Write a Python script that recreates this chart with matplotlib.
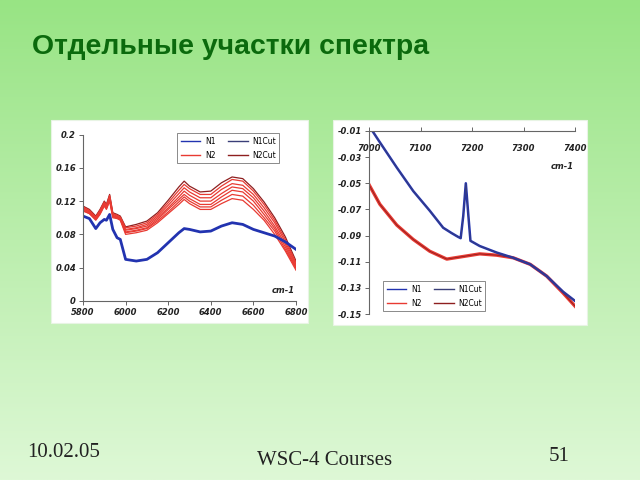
import numpy as np
import matplotlib
matplotlib.use("Agg")
import matplotlib.pyplot as plt
from matplotlib.patches import Rectangle

############################ Data: left panel ###################################
wn_left = [5800, 5830, 5860, 5880, 5900, 5910, 5925, 5940, 5960, 5975, 6000, 6050, 6100, 6150,
           6200, 6250, 6275, 6300, 6350, 6400, 6450, 6500, 6550, 6600, 6650, 6700, 6750, 6800]
n1_left = [.102, .099, .087, .094, .098, .097, .104, .086, .076, .074, .050, .048, .050, .058,
           .070, .082, .087, .086, .083, .084, .090, .094, .092, .086, .082, .078, .071, .062]
# red bundle (N2 / N2Cut), top to bottom
n2_left = [
    [.114, .110, .102, .110, .120, .116, .128, .106, .104, .102, .089, .092, .096, .106,
     .121, .137, .144, .138, .131, .132, .142, .149, .147, .135, .119, .100, .077, .048],
    [.113, .109, .101, .109, .119, .115, .127, .105, .103, .101, .088, .090, .094, .104,
     .118, .133, .140, .135, .128, .128, .138, .146, .144, .132, .116, .097, .074, .046],
    [.112, .108, .100, .108, .118, .114, .125, .104, .102, .100, .086, .088, .092, .102,
     .115, .129, .136, .131, .124, .124, .134, .141, .139, .128, .112, .094, .071, .044],
    [.111, .107, .099, .107, .117, .113, .124, .103, .101, .099, .085, .087, .090, .100,
     .112, .125, .132, .127, .120, .120, .129, .137, .135, .124, .108, .090, .068, .042],
    [.110, .106, .098, .106, .116, .112, .123, .102, .100, .098, .083, .085, .088, .098,
     .110, .122, .128, .123, .116, .116, .125, .133, .131, .120, .104, .087, .065, .040],
    [.109, .105, .098, .105, .115, .111, .121, .101, .100, .098, .082, .084, .087, .096,
     .107, .119, .125, .120, .113, .113, .121, .128, .126, .115, .100, .084, .062, .039],
    [.108, .105, .097, .104, .114, .110, .120, .100, .099, .097, .080, .082, .085, .094,
     .105, .116, .122, .117, .110, .110, .117, .123, .121, .110, .097, .080, .060, .037],
]
left_xticks = [5800, 6000, 6200, 6400, 6600, 6800]
left_yticks = [0, 0.04, 0.08, 0.12, 0.16, 0.2]
left_ylabels = ["0", "0.04", "0.08", "0.12", "0.16", "0.2"]

############################ Data: right panel ##################################
wn_n1_right = [7000, 7020, 7054, 7086, 7118, 7144, 7160, 7173, 7178, 7183, 7188, 7193, 7197,
               7215, 7248, 7280, 7313, 7345, 7377, 7400]
n1_right = [-0.006, -0.018, -0.038, -0.056, -0.071, -0.084, -0.088, -0.091, -0.092, -0.075,
            -0.050, -0.075, -0.094, -0.098, -0.103, -0.107, -0.112, -0.121, -0.133, -0.140]
wn_n2_right = [7000, 7021, 7054, 7086, 7118, 7151, 7183, 7215, 7248, 7280, 7313, 7345, 7377, 7400]
n2_right = [-0.051, -0.066, -0.082, -0.093, -0.102, -0.108, -0.106, -0.104, -0.105, -0.107,
            -0.112, -0.121, -0.134, -0.144]
right_xticks = [7000, 7100, 7200, 7300, 7400]
right_yticks = [-0.01, -0.03, -0.05, -0.07, -0.09, -0.11, -0.13, -0.15]

title = "Отдельные участки спектра"
footer_date = "10.02.05"
footer_mid = "WSC-4 Courses"
footer_page = "51"

c_n1 = "#2233b0"
c_n1cut = "#3a3f78"
c_n2 = "#e83a32"
c_n2cut = "#8e1f1f"
tick_font = dict(fontsize=6, fontstyle="italic", fontweight="bold", color="#222222")

################################ Figure ##########################################
fig = plt.figure(figsize=(6.4, 4.8), dpi=100)

# gradient background
bg = fig.add_axes([0, 0, 1, 1])
top = np.array([152, 228, 132]) / 255.
bot = np.array([222, 248, 214]) / 255.
t = np.linspace(0, 1, 256)[:, None, None]
grad = top * (1 - t) + bot * t
bg.imshow(np.repeat(grad, 2, axis=1), aspect="auto", extent=[0, 1, 0, 1])
bg.set_axis_off()

# white chart panels (pixel boxes)
for x0, y0, x1, y1 in [(51, 120, 308, 323), (333, 120, 587, 325)]:
    bg.add_patch(Rectangle((x0 / 640, 1 - y1 / 480), (x1 - x0) / 640, (y1 - y0) / 480,
                           facecolor="white", edgecolor="#e8f4e4", lw=0.8,
                           transform=fig.transFigure))

fig.text(32 / 640, 1 - 54 / 480, title, fontsize=20.4, fontweight="bold", color="#0b6a0d",
         family="Liberation Sans", va="baseline")
fig.text(27 / 640, 1 - 457 / 480, footer_date, fontsize=15, family="Liberation Serif",
         color="#222222", va="baseline")
fig.text(325 / 640, 1 - 465 / 480, footer_mid, fontsize=15, family="Liberation Serif",
         color="#222222", va="baseline", ha="center")
fig.text(559 / 640, 1 - 461 / 480, footer_page, fontsize=15, family="Liberation Serif",
         color="#222222", va="baseline", ha="center")


def style_axes(ax):
    for s in ax.spines.values():
        s.set_color("#666666")
        s.set_linewidth(0.8)
    ax.tick_params(length=3, width=0.7, color="#666666", pad=2)
    ax.set_facecolor("none")


############################ Left chart ##########################################
ax1 = fig.add_axes([83 / 640, 1 - 301 / 480, 213 / 640, 166.5 / 480])
for k, y in enumerate(n2_left):
    col = c_n2cut if k == 0 else c_n2
    ax1.plot(wn_left, y, color=col, lw=0.9)
ax1.plot(wn_left, n1_left, color=c_n1, lw=2.0)
ax1.set_xlim(5800, 6800)
ax1.set_ylim(0, 0.2)
ax1.spines["top"].set_visible(False)
ax1.spines["right"].set_visible(False)
style_axes(ax1)
ax1.set_xticks(left_xticks)
ax1.set_xticklabels([str(v) for v in left_xticks], **tick_font)
ax1.set_yticks(left_yticks)
ax1.set_yticklabels(left_ylabels, **tick_font)
ax1.text(6795, 0.013, "cm-1", ha="right", va="center", **tick_font)
h = [plt.Line2D([], [], color=c_n1, lw=1), plt.Line2D([], [], color=c_n2, lw=1),
     plt.Line2D([], [], color=c_n1cut, lw=1), plt.Line2D([], [], color=c_n2cut, lw=1)]
leg_kw = dict(ncol=2, fontsize=5.5, fancybox=False, edgecolor="#777777", framealpha=1,
              handlelength=2.6, handletextpad=0.6, columnspacing=1.6,
              borderpad=0.45, labelspacing=0.65)
leg = ax1.legend(h, ["N1", "N2", "N1Cut", "N2Cut"], loc="upper right",
                 bbox_to_anchor=(0.94, 1.03), **leg_kw)
leg.get_frame().set_linewidth(0.6)

############################ Right chart #########################################
ax2 = fig.add_axes([369 / 640, 1 - 314 / 480, 206 / 640, 183 / 480])
ax2.plot(wn_n2_right, n2_right, color=c_n2, lw=2.4)
ax2.plot(wn_n2_right, n2_right, color=c_n2cut, lw=0.6)
ax2.plot(wn_n1_right, n1_right, color=c_n1, lw=1.8)
ax2.plot(wn_n1_right, n1_right, color=c_n1cut, lw=0.6)
ax2.set_xlim(7000, 7400)
ax2.set_ylim(-0.15, -0.01)
ax2.spines["bottom"].set_visible(False)
ax2.spines["right"].set_visible(False)
style_axes(ax2)
ax2.xaxis.tick_top()
ax2.set_xticks(right_xticks)
ax2.set_xticklabels([str(v) for v in right_xticks], **tick_font)
ax2.tick_params(axis="x", pad=-19)
ax2.set_yticks(right_yticks)
ax2.set_yticklabels([f"{v:.2f}" for v in right_yticks], **tick_font)
ax2.text(7398, -0.037, "cm-1", ha="right", va="center", **tick_font)
leg2 = ax2.legend(h, ["N1", "N2", "N1Cut", "N2Cut"], loc="lower left",
                  bbox_to_anchor=(0.05, -0.005), **leg_kw)
leg2.get_frame().set_linewidth(0.6)

fig.savefig("out.png", dpi=100)
